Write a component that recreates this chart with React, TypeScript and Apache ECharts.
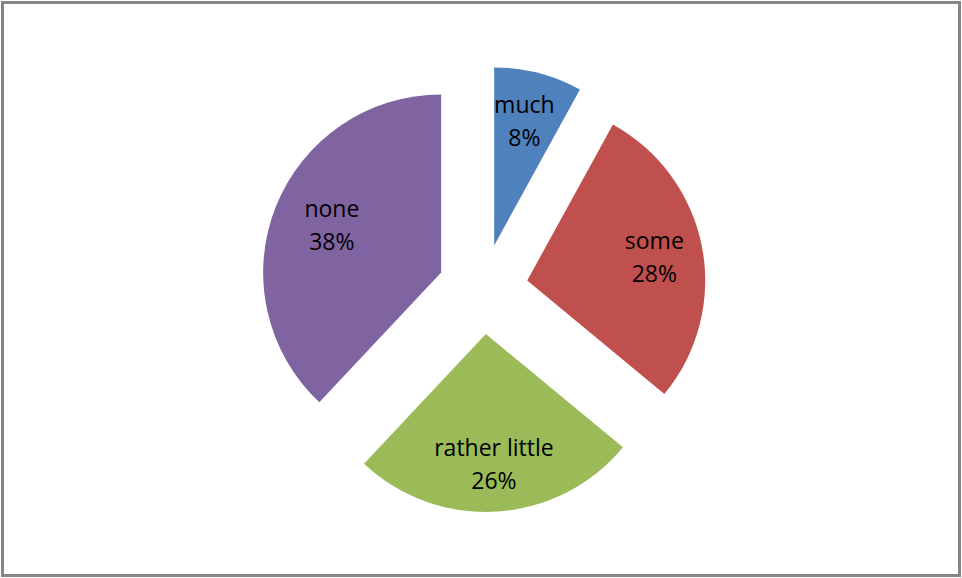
import React, { useEffect, useRef } from "react";
import * as echarts from "echarts";

const categories = ["much", "some", "rather little", "none"];
const values = [8, 28, 26, 38];
const colors = ["#4F81BD", "#C0504D", "#9BBB59", "#8064A2"];
// label padding [top, right, bottom, left] to nudge the inside labels like Excel places them
const labelPads = [[8, 4, 0, 0], [12, 0, 0, 0], [12, 0, 0, 0], [0, 0, 16, 22]];

export default function App() {
  const ref = useRef<HTMLDivElement>(null);
  useEffect(() => {
    if (!ref.current) return;
    const chart = echarts.init(ref.current, undefined, { renderer: "svg" });
    const center = [483, 289];
    const radius = 178;
    const offset = 45;
    const mkData = (transparent: boolean) =>
      categories.map((c, i) => ({
        name: c,
        value: values[i],
        selected: true,
        itemStyle: { color: transparent ? "rgba(0,0,0,0)" : colors[i] },
        select: { itemStyle: { color: transparent ? "rgba(0,0,0,0)" : colors[i] } },
        label: transparent ? { padding: labelPads[i] } : undefined,
      }));
    chart.setOption({
      animation: false,
      graphic: [
        {
          type: "rect",
          shape: { x: 2.5, y: 2.5, width: 957, height: 573 },
          style: { fill: "none", stroke: "#868686", lineWidth: 3 },
          silent: true,
        },
      ],
      series: [
        {
          type: "pie",
          center,
          radius: [0, radius],
          startAngle: 90,
          clockwise: true,
          selectedMode: "multiple",
          selectedOffset: offset,
          silent: true,
          label: { show: false },
          labelLine: { show: false },
          emphasis: { disabled: true },
          data: mkData(false),
        },
        {
          type: "pie",
          center,
          radius: [radius * 0.42, radius],
          startAngle: 90,
          clockwise: true,
          selectedMode: "multiple",
          selectedOffset: offset,
          silent: true,
          z: 3,
          emphasis: { disabled: true },
          label: {
            show: true,
            position: "inside",
            formatter: (p: any) => `${p.name}\n${p.value}%`,
            fontFamily: "Open Sans",
            fontSize: 23,
            lineHeight: 33,
            color: "#000",
          },
          labelLine: { show: false },
          data: mkData(true),
        },
      ],
    });
    return () => chart.dispose();
  }, []);
  return (
    <div
      ref={ref}
      style={{ position: "fixed", left: 0, top: 0, width: 962, height: 578, background: "#fff" }}
    />
  );
}
